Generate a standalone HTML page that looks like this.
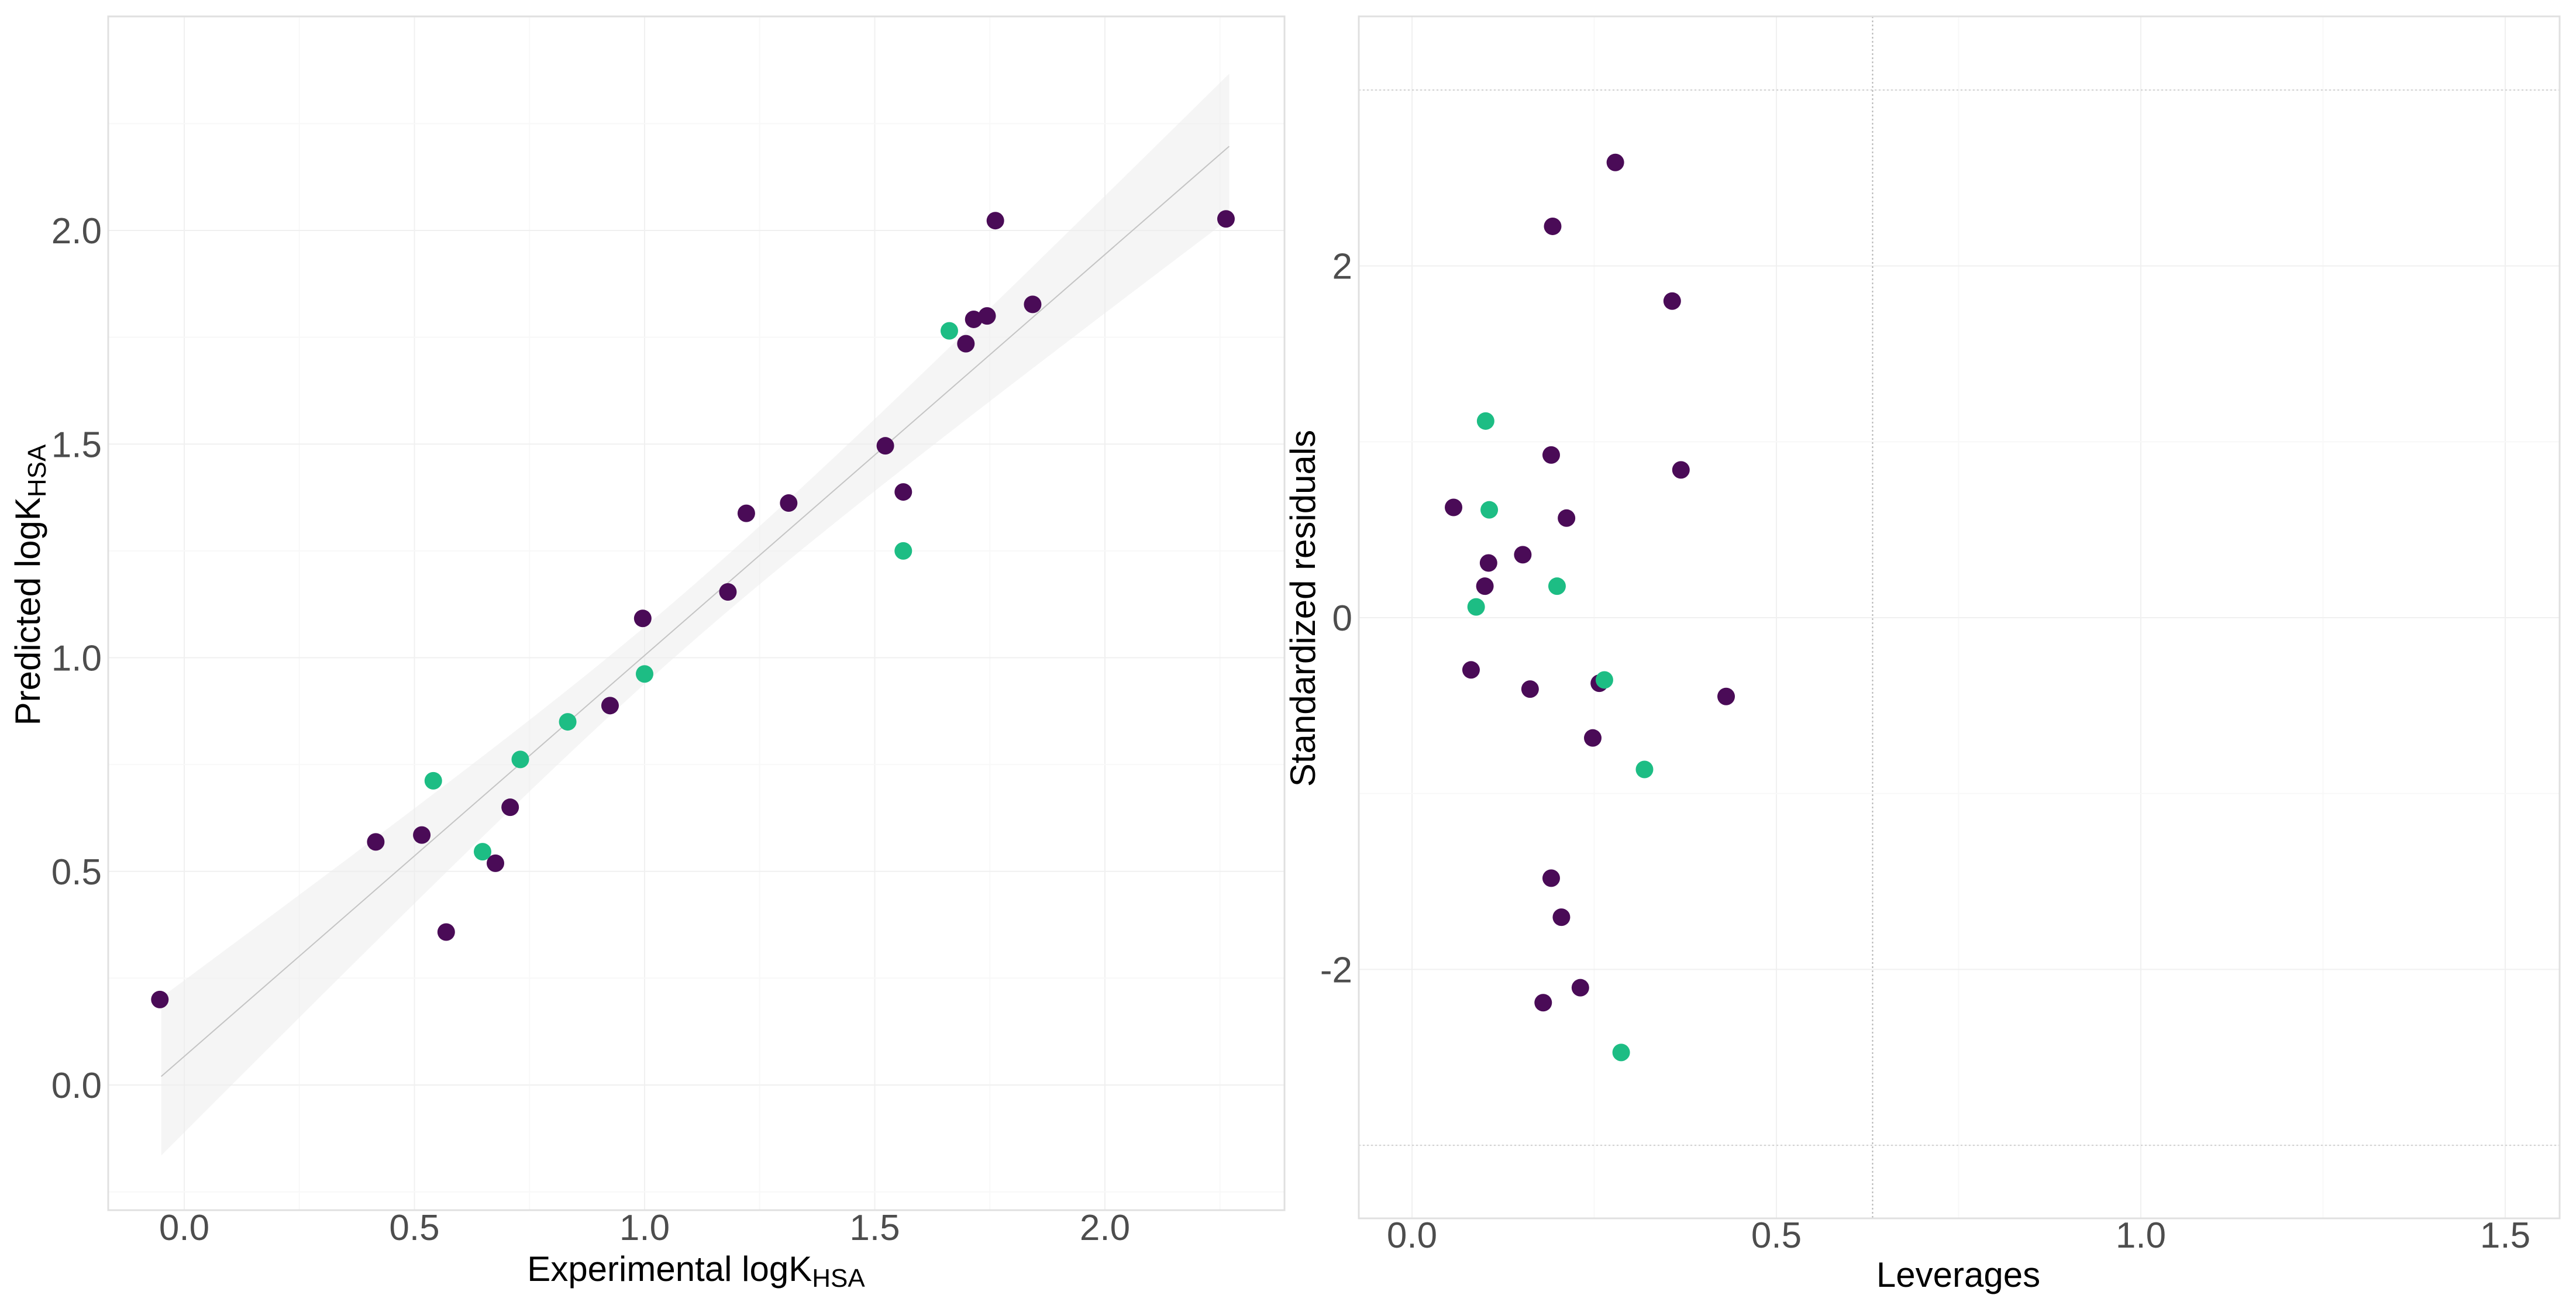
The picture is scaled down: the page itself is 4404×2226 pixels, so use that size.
<!DOCTYPE html>
<html><head><meta charset="utf-8"><style>
html,body{margin:0;padding:0;background:#fff;}
svg{display:block;font-family:"Liberation Sans",Arial,sans-serif;}
</style></head><body>
<svg id="fig" width="4404" height="2226" viewBox="0 0 4404 2226">
<g id="left"></g>
<g id="right"></g>
</svg>
<script>
const NS='http://www.w3.org/2000/svg';
// ---- Left panel data ----
const expTrain=[-0.053,0.416,0.516,0.569,0.676,0.708,0.925,0.996,1.181,1.221,1.313,1.523,1.562,1.698,1.715,1.744,1.762,1.843,2.263];
const predTrain=[0.20,0.569,0.585,0.358,0.519,0.65,0.888,1.092,1.154,1.338,1.362,1.496,1.388,1.735,1.792,1.80,2.023,1.827,2.027];
const expTest=[0.541,0.648,0.73,0.833,1.0,1.562,1.662];
const predTest=[0.712,0.546,0.762,0.85,0.962,1.25,1.765];
const fitX=[-0.05,2.27];
const fitY=[0.02,2.197];
const bandLower=[-0.17,2.03];
const bandUpper=[0.20,2.37];
const leftXTicks=[0,0.5,1,1.5,2];
const leftXTickLabels=['0.0','0.5','1.0','1.5','2.0'];
const leftYTicks=[0,0.5,1,1.5,2];
const leftYTickLabels=['0.0','0.5','1.0','1.5','2.0'];
// ---- Right panel data ----
const levTrain=[0.279,0.193,0.357,0.191,0.369,0.057,0.212,0.152,0.105,0.100,0.081,0.162,0.257,0.431,0.248,0.191,0.205,0.231,0.180];
const resTrain=[2.588,2.225,1.80,0.925,0.84,0.627,0.566,0.358,0.311,0.179,-0.297,-0.406,-0.373,-0.448,-0.684,-1.481,-1.703,-2.104,-2.189];
const levTest=[0.101,0.106,0.199,0.088,0.264,0.319,0.287];
const resTest=[1.118,0.613,0.179,0.061,-0.354,-0.863,-2.472];
const hStar=[0.632];
const resLimits=[-3,3];
const rightXTicks=[0,0.5,1,1.5];
const rightXTickLabels=['0.0','0.5','1.0','1.5'];
const rightYTicks=[-2,0,2];
const rightYTickLabels=['-2','0','2'];

const PURPLE='#4a0b57', GREEN='#1dbd84';
const MAJ='#f0f0f0', MIN='#f8f8f8';
function el(parent,tag,attrs,text){const e=document.createElementNS(NS,tag);for(const k in attrs)e.setAttribute(k,attrs[k]);if(text!==undefined)e.textContent=text;parent.appendChild(e);return e;}

// left scales
const lx=v=>315+787*v, ly=v=>1855-730.5*v;
const L=document.getElementById('left');
const LF={x0:185,x1:2196,y0:28,y1:2069};
for(let v=-0.25;v<=2.5;v+=0.25){const p=lx(v);if(p<LF.x0||p>LF.x1)continue;const g=el(L,'line',{x1:p,x2:p,y1:LF.y0,y2:LF.y1,stroke:Math.abs(v*2-Math.round(v*2))<1e-6?MAJ:MIN,'stroke-width':2});

}
for(let v=-0.25;v<=2.5;v+=0.25){const p=ly(v);if(p<LF.y0||p>LF.y1)continue;const g=el(L,'line',{x1:LF.x0,x2:LF.x1,y1:p,y2:p,stroke:Math.abs(v*2-Math.round(v*2))<1e-6?MAJ:MIN,'stroke-width':2});

}
(function(){const n=40,pts=[],ptsB=[];const xm=1.1;
 const hw0=(bandUpper[0]-bandLower[0])/2,hw1=(bandUpper[1]-bandLower[1])/2,hmin=0.065;
 const a0=(hw0*hw0-hmin*hmin)/Math.pow(fitX[0]-xm,2),a1=(hw1*hw1-hmin*hmin)/Math.pow(fitX[1]-xm,2);
 for(let i=0;i<=n;i++){const x=fitX[0]+(fitX[1]-fitX[0])*i/n;const c=fitY[0]+(fitY[1]-fitY[0])*(x-fitX[0])/(fitX[1]-fitX[0]);
  const a=x<xm?a0:a1;const hw=Math.sqrt(hmin*hmin+a*(x-xm)*(x-xm));pts.push(lx(x)+','+ly(c+hw));ptsB.unshift(lx(x)+','+ly(c-hw));}
 const b=el(L,'polygon',{points:pts.concat(ptsB).join(' '),fill:'#ececec','fill-opacity':0.55});
 
 })();
const fl=el(L,'line',{x1:lx(fitX[0]),y1:ly(fitY[0]),x2:lx(fitX[1]),y2:ly(fitY[1]),stroke:'#c4c4c4','stroke-width':2});


const lfr=el(L,'rect',{x:LF.x0,y:LF.y0,width:LF.x1-LF.x0,height:LF.y1-LF.y0,fill:'none',stroke:'#e0e0e0','stroke-width':3});


expTrain.forEach((v,i)=>{const c=el(L,'circle',{cx:lx(v),cy:ly(predTrain[i]),r:15,fill:PURPLE});

});
expTest.forEach((v,i)=>{const c=el(L,'circle',{cx:lx(v),cy:ly(predTest[i]),r:15,fill:GREEN});

});
leftXTicks.forEach((v,i)=>{const t=el(L,'text',{x:lx(v),y:2120,'font-size':62,fill:'#4d4d4d','text-anchor':'middle'},leftXTickLabels[i]);

});
leftYTicks.forEach((v,i)=>{const t=el(L,'text',{x:174,y:ly(v)+22,'font-size':62,fill:'#4d4d4d','text-anchor':'end'},leftYTickLabels[i]);

});
(function(){const t=el(L,'text',{x:1190,y:2190,'font-size':60,fill:'#000','text-anchor':'middle'});


el(t,'tspan',{},'Experimental logK');el(t,'tspan',{'font-size':44,dy:10},'HSA');
const u=el(L,'text',{x:0,y:0,'font-size':60,fill:'#000','text-anchor':'middle',transform:'translate(68,1000) rotate(-90)'});


el(u,'tspan',{},'Predicted logK');el(u,'tspan',{'font-size':44,dy:10},'HSA');})();

// right panel
const rx=v=>2414+1246*v, ry=v=>1056-300.7*v;
const R=document.getElementById('right');
const RF={x0:2323,x1:4376,y0:28,y1:2083};
for(let v=-0.25;v<=1.75;v+=0.25){const p=rx(v);if(p<RF.x0||p>RF.x1)continue;const g=el(R,'line',{x1:p,x2:p,y1:RF.y0,y2:RF.y1,stroke:Math.abs(v*2-Math.round(v*2))<1e-6?MAJ:MIN,'stroke-width':2});

}
for(let v=-4;v<=4;v+=1){const p=ry(v);if(p<RF.y0||p>RF.y1)continue;const g=el(R,'line',{x1:RF.x0,x2:RF.x1,y1:p,y2:p,stroke:v%2===0?MAJ:MIN,'stroke-width':2});

}
resLimits.forEach(v=>{const g=el(R,'line',{x1:RF.x0,x2:RF.x1,y1:ry(v),y2:ry(v),stroke:'#d0d0d0','stroke-width':2,'stroke-dasharray':'3,4'});

});
hStar.forEach(v=>{const g=el(R,'line',{x1:rx(v),x2:rx(v),y1:RF.y0,y2:RF.y1,stroke:'#b5b5b5','stroke-width':2,'stroke-dasharray':'3,4'});

});
const rfr=el(R,'rect',{x:RF.x0,y:RF.y0,width:RF.x1-RF.x0,height:RF.y1-RF.y0,fill:'none',stroke:'#e0e0e0','stroke-width':3});


levTrain.forEach((v,i)=>{const c=el(R,'circle',{cx:rx(v),cy:ry(resTrain[i]),r:15,fill:PURPLE});

});
levTest.forEach((v,i)=>{const c=el(R,'circle',{cx:rx(v),cy:ry(resTest[i]),r:15,fill:GREEN});

});
rightXTicks.forEach((v,i)=>{const t=el(R,'text',{x:rx(v),y:2133,'font-size':62,fill:'#4d4d4d','text-anchor':'middle'},rightXTickLabels[i]);

});
rightYTicks.forEach((v,i)=>{const t=el(R,'text',{x:2312,y:ry(v)+22,'font-size':62,fill:'#4d4d4d','text-anchor':'end'},rightYTickLabels[i]);

});
(function(){const t=el(R,'text',{x:3348,y:2200,'font-size':60,fill:'#000','text-anchor':'middle'},'Leverages');


const u=el(R,'text',{x:0,y:0,'font-size':60,fill:'#000','text-anchor':'middle',transform:'translate(2248,1040) rotate(-90)'},'Standardized residuals');

})();
</script>
</body></html>
